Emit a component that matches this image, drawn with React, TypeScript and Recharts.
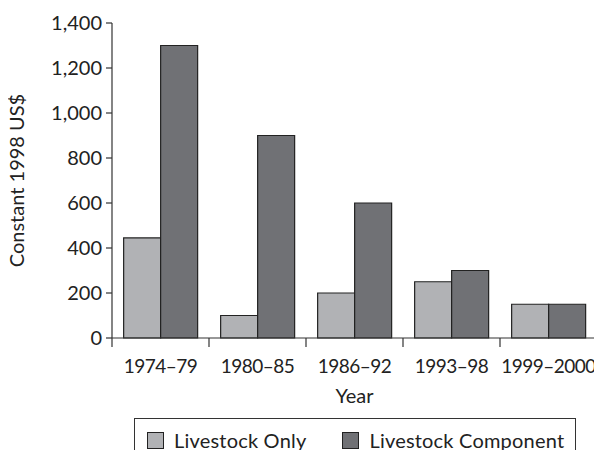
import React from "react";
import { BarChart, Bar, XAxis, YAxis } from "recharts";

const periods = ["1974–79", "1980–85", "1986–92", "1993–98", "1999–2000"];
const livestockOnly = [445, 100, 200, 250, 150];
const livestockComponent = [1300, 900, 600, 300, 150];
const yTicks = [0, 200, 400, 600, 800, 1000, 1200, 1400];
const seriesNames = ["Livestock Only", "Livestock Component"];
const seriesColors = ["#b1b2b5", "#707175"];

const data = periods.map((p, i) => ({
  name: p,
  only: livestockOnly[i],
  component: livestockComponent[i],
}));

const FONT = "Lato, 'Open Sans', sans-serif";
const FS = 20;
const W = 602;
const H = 458;
const AXIS_LEFT = 112;
const RIGHT = 5;
const BAND = (W - AXIS_LEFT - RIGHT) / periods.length;

function YearTick(props: any) {
  const { x, y, payload, index } = props;
  const left = x - BAND / 2;
  return (
    <g>
      <line x1={left} y1={y - 8} x2={left} y2={y + 1} stroke="#333" strokeWidth={1.2} />
      {index === periods.length - 1 && (
        <line x1={left + BAND} y1={y - 8} x2={left + BAND} y2={y + 1} stroke="#333" strokeWidth={1.2} />
      )}
      <text
        x={x}
        y={y + 27}
        textAnchor="middle"
        fontSize={19}
        letterSpacing={-0.5}
        fill="#222"
        fontFamily={FONT}
      >
        {payload.value}
      </text>
    </g>
  );
}

export default function App() {
  return (
    <div style={{ position: "relative", width: W, height: H, margin: -8, background: "#fff" }}>
      <BarChart
        width={W}
        height={H}
        data={data}
        margin={{ top: 23, right: RIGHT, left: 0, bottom: 0 }}
        barCategoryGap="12%"
        barGap={0}
      >
        <XAxis
          dataKey="name"
          height={120}
          tickLine={false}
          tick={<YearTick />}
          axisLine={{ stroke: "#333", strokeWidth: 1.2 }}
          interval={0}
          label={{ value: "Year", position: "insideTop", dy: 46, fontSize: FS, fill: "#222", fontFamily: FONT }}
        />
        <YAxis
          width={AXIS_LEFT}
          domain={[0, 1400]}
          ticks={yTicks}
          tickSize={6}
          tickMargin={4}
          tickFormatter={(v: number) => v.toLocaleString("en-US")}
          tick={{ fontSize: FS, fill: "#222", fontFamily: FONT }}
          tickLine={{ stroke: "#333", strokeWidth: 1.2 }}
          axisLine={{ stroke: "#333", strokeWidth: 1.2 }}
          label={{
            value: "Constant 1998 US$",
            angle: -90,
            position: "insideLeft",
            dx: 12,
            style: { textAnchor: "middle", fontSize: FS, fill: "#222", fontFamily: FONT },
          }}
        />
        <Bar dataKey="only" name={seriesNames[0]} fill={seriesColors[0]} stroke="#222" strokeWidth={1.2} isAnimationActive={false} />
        <Bar dataKey="component" name={seriesNames[1]} fill={seriesColors[1]} stroke="#222" strokeWidth={1.2} isAnimationActive={false} />
      </BarChart>
      <div
        style={{
          position: "absolute",
          left: 134,
          top: 418,
          width: 442,
          height: 50,
          border: "1.2px solid #333",
          boxSizing: "border-box",
          display: "flex",
          alignItems: "flex-start",
          paddingTop: 9,
          paddingLeft: 12,
          fontFamily: FONT,
          fontSize: FS,
          letterSpacing: 0.2,
          color: "#222",
          whiteSpace: "nowrap",
        }}
      >
        {seriesNames.map((n, i) => (
          <div key={n} style={{ display: "flex", alignItems: "center", marginRight: 36, flexShrink: 0 }}>
            <span
              style={{
                display: "inline-block",
                width: 15,
                height: 15,
                background: seriesColors[i],
                border: "1.2px solid #222",
                marginRight: 10,
                flexShrink: 0,
              }}
            />
            <span>{n}</span>
          </div>
        ))}
      </div>
    </div>
  );
}
